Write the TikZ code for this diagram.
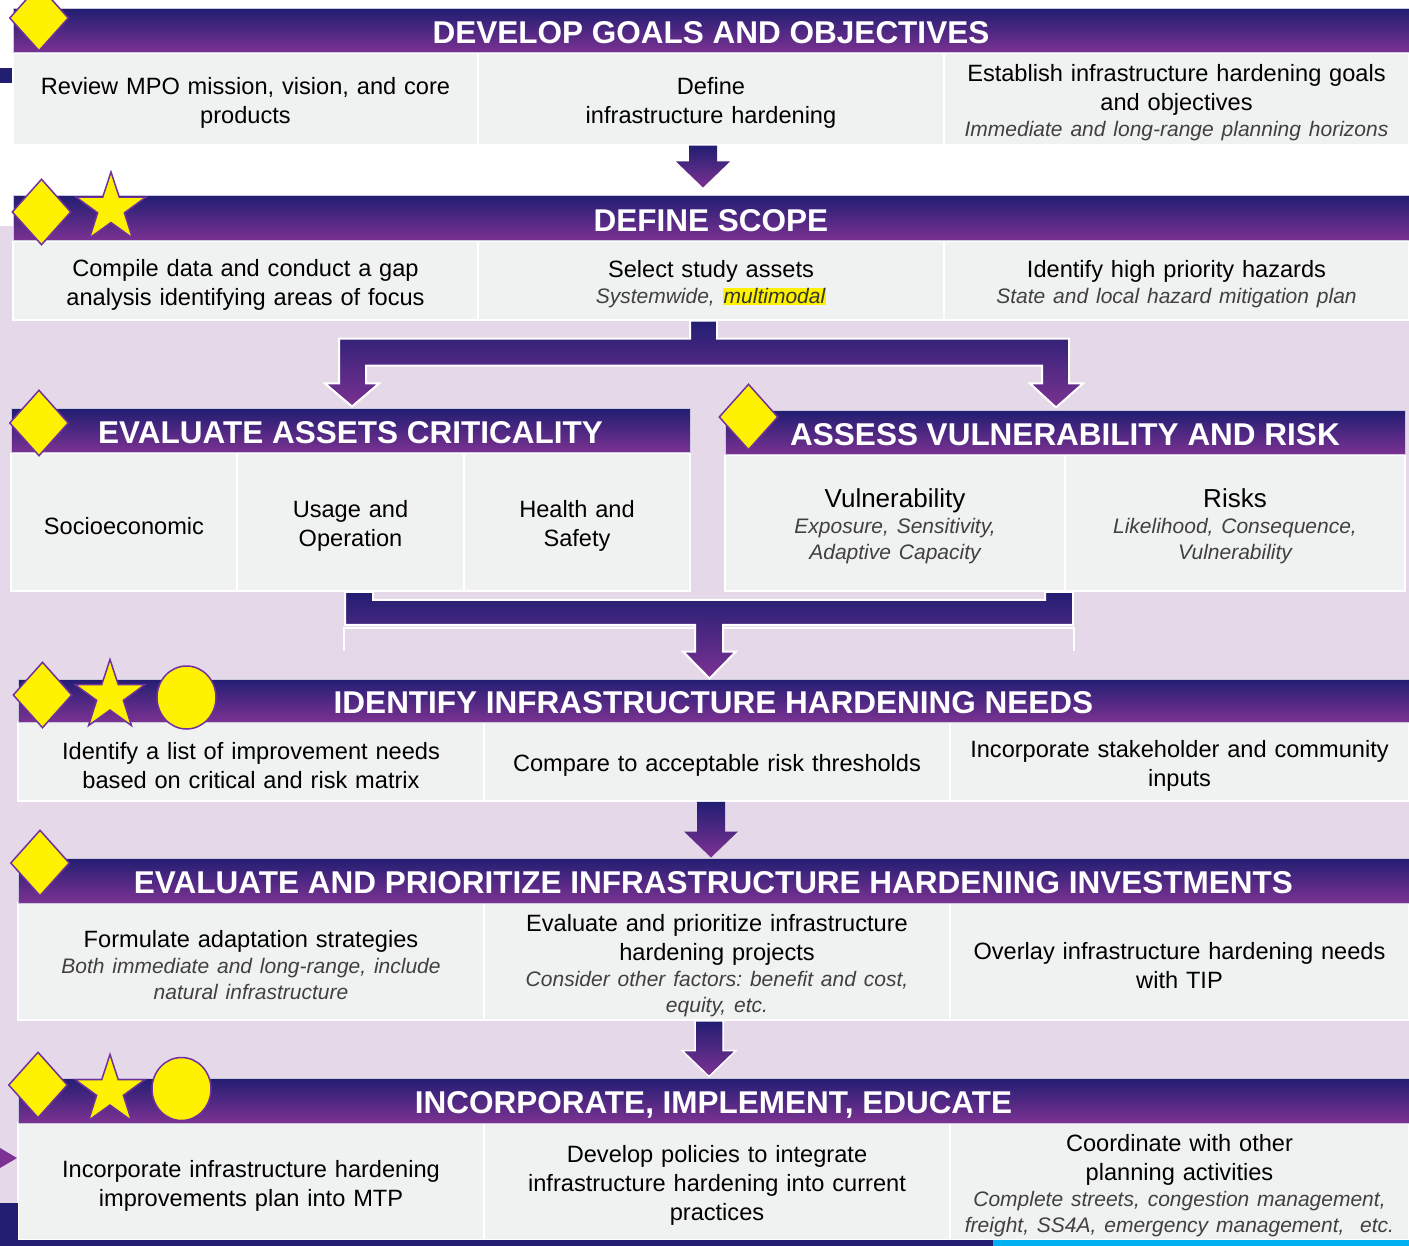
\documentclass[tikz,border=0pt]{standalone}
\usepackage{fontspec}
\setmainfont{Liberation Sans}
\usetikzlibrary{shapes.geometric,calc}
\frenchspacing

% Colours
\definecolor{hnavy}{RGB}{34,30,114}
\definecolor{hplum}{RGB}{124,50,146}
\definecolor{lav}{RGB}{229,216,233}
\definecolor{cellgray}{RGB}{240,241,241}
\definecolor{subgray}{RGB}{64,64,64}
\definecolor{edgeplum}{RGB}{112,48,160}
\definecolor{skyline}{RGB}{0,176,240}

% Text helpers
\newcommand{\bodyfont}{\fontsize{23.6}{29}\selectfont}
\newcommand{\subtxt}[1]{{\par\itshape\color{subgray}\fontsize{21}{26}\selectfont #1\par}}
\newcommand{\hilite}[1]{{\setlength{\fboxsep}{1pt}\colorbox{yellow}{\color{black!80}#1}}}

% Block arrow going down from one node to the next
\newcommand{\blockdown}[5][]{%
  \path[arrowfill,#1] let \p1 = (#3.south), \p2 = (#4.north) in
    ({#2pt-14pt},\y1) -- ({#2pt+14pt},\y1) -- ({#2pt+14pt},{\y2+#5pt+26pt})
    -- ({#2pt+27pt},{\y2+#5pt+26pt}) -- ({#2pt},{\y2+#5pt})
    -- ({#2pt-27pt},{\y2+#5pt+26pt}) -- ({#2pt-14pt},{\y2+#5pt+26pt}) -- cycle;}

\tikzset{
  hdr/.style={top color=hnavy, bottom color=hplum, draw=hnavy!25!white, line width=1pt,
    text=white, font=\bfseries\fontsize{31.5}{36}\selectfont, inner sep=0pt,
    text height=26pt, text depth=0pt},
  cell/.style={fill=cellgray, draw=white, line width=1.5pt, inner sep=0pt, align=center,
    font=\bodyfont, execute at begin node={\rule{0pt}{25pt}}},
  wcell/.style={cell, minimum width=465pt, text width=449pt},
  ncell/.style={cell, minimum width=226pt, text width=214pt},
  hcell/.style={cell, minimum width=340pt, text width=326pt},
  badge/.style={fill=yellow, draw=edgeplum, line width=1.5pt, inner sep=0pt},
  dmd/.style={badge, diamond, minimum width=59pt, minimum height=66pt},
  starb/.style={badge, star, star points=5, star point ratio=2.6, minimum size=73pt},
  disc/.style={badge, ellipse, minimum width=59pt, minimum height=63pt},
  arrowfill/.style={top color=hnavy, bottom color=hplum},
  forkarrow/.style={arrowfill, draw=white, line width=2pt}
}

\begin{document}
\begin{tikzpicture}[x=1pt,y=-1pt]

    \useasboundingbox (0,0) rectangle (1409,1246);

    % Background
    \fill[lav] (0,226) rectangle (1409,1246);
    \fill[hnavy] (0,68) rectangle (12,83);

    % Row 1: goals and objectives
    \node[wcell, minimum height=92pt] (b1a) at (245.5,99) {Review MPO mission, vision, and core\\products};
    \node[wcell, minimum height=92pt] (b1b) at (711,99) {Define\\infrastructure hardening};
    \node[wcell, minimum height=92pt] (b1c) at (1176.5,99) {Establish infrastructure hardening goals\\and objectives\subtxt{Immediate and long-range planning horizons}};
    \node[hdr, minimum width=1396pt, minimum height=44pt] (h1) at (711,31) {DEVELOP GOALS AND OBJECTIVES};

    % Row 2: scope
    \node[wcell, minimum height=79pt] (b2a) at (245.5,280.5) {Compile data and conduct a gap\\analysis identifying areas of focus};
    \node[wcell, minimum height=79pt] (b2b) at (711,280.5) {Select study assets\subtxt{Systemwide, \hilite{multimodal}}};
    \node[wcell, minimum height=79pt] (b2c) at (1176.5,280.5) {Identify high priority hazards\subtxt{State and local hazard mitigation plan}};
    \node[hdr, minimum width=1396pt, minimum height=45pt] (h2) at (711,218.5) {DEFINE SCOPE};

    % Row 3: criticality and vulnerability
    \node[ncell, minimum height=138pt] (b3a) at (124,522) {Socioeconomic};
    \node[ncell, minimum height=138pt] (b3b) at (350.5,522) {Usage and\\Operation};
    \node[ncell, minimum height=138pt] (b3c) at (577,522) {Health and\\Safety};
    \node[hdr, minimum width=679pt, minimum height=44pt] (h3a) at (350.5,431) {EVALUATE ASSETS CRITICALITY};
    \node[hcell, minimum height=136pt] (b3d) at (895,523) {{\fontsize{26}{30}\selectfont Vulnerability}\subtxt{Exposure, Sensitivity,\\Adaptive Capacity}};
    \node[hcell, minimum height=136pt] (b3e) at (1235,523) {{\fontsize{26}{30}\selectfont Risks}\subtxt{Likelihood, Consequence,\\Vulnerability}};
    \node[hdr, minimum width=680pt, minimum height=44pt] (h3b) at (1065,433) {ASSESS VULNERABILITY AND RISK};

    % Row 4: needs
    \node[wcell, minimum width=466pt, minimum height=79pt] (b4a) at (251,761.5) {Identify a list of improvement needs\\based on critical and risk matrix};
    \node[wcell, minimum width=466pt, minimum height=79pt] (b4b) at (717,761.5) {Compare to acceptable risk thresholds};
    \node[wcell, minimum width=459pt, minimum height=79pt] (b4c) at (1179.5,761.5) {Incorporate stakeholder and community\\inputs};
    \node[hdr, minimum width=1391pt, minimum height=43pt] (h4) at (713.5,700.5) {IDENTIFY INFRASTRUCTURE HARDENING NEEDS};

    % Row 5: investments
    \node[wcell, minimum width=466pt, minimum height=117pt] (b5a) at (251,961.5) {Formulate adaptation strategies\subtxt{Both immediate and long-range, include\\natural infrastructure}};
    \node[wcell, minimum width=466pt, minimum height=117pt] (b5b) at (717,961.5) {Evaluate and prioritize infrastructure\\hardening projects\subtxt{Consider other factors: benefit and cost,\\equity, etc.}};
    \node[wcell, minimum width=459pt, minimum height=117pt] (b5c) at (1179.5,961.5) {Overlay infrastructure hardening needs\\with TIP};
    \node[hdr, minimum width=1391pt, minimum height=45pt] (h5) at (713.5,880.5) {EVALUATE AND PRIORITIZE INFRASTRUCTURE HARDENING INVESTMENTS};

    % Row 6: incorporate
    \node[wcell, minimum width=466pt, minimum height=117pt] (b6a) at (251,1181.5) {Incorporate infrastructure hardening\\improvements plan into MTP};
    \node[wcell, minimum width=466pt, minimum height=117pt] (b6b) at (717,1181.5) {Develop policies to integrate\\infrastructure hardening into current\\practices};
    \node[wcell, minimum width=459pt, minimum height=117pt] (b6c) at (1179.5,1181.5) {Coordinate with other\\planning activities\subtxt{Complete streets, congestion management,\\freight, SS4A, emergency management,~~etc.}};
    \node[hdr, minimum width=1391pt, minimum height=45pt] (h6) at (713.5,1100.5) {INCORPORATE, IMPLEMENT, EDUCATE};

    % Arrows between the rows
    \blockdown{703}{b1b}{h2}{8}
    \path[forkarrow] let \p1 = (b2b.south), \p2 = (h3a.north), \p3 = (h3b.north) in
      (690pt,\y1) -- (717pt,\y1) -- (717pt,{\y1-18pt}) -- (1069pt,{\y1-18pt})
      -- (1069pt,{\y3+27pt}) -- (1083pt,{\y3+27pt}) -- (1056pt,{\y3+3pt}) -- (1030pt,{\y3+27pt})
      -- (1042pt,{\y3+27pt}) -- (1042pt,{\y1-45pt}) -- (366pt,{\y1-45pt}) -- (366pt,{\y2+25pt})
      -- (379pt,{\y2+25pt}) -- (352pt,{\y2+2pt}) -- (325pt,{\y2+25pt}) -- (339pt,{\y2+25pt})
      -- (339pt,{\y1-18pt}) -- (690pt,{\y1-18pt}) -- cycle;
    \draw[white, line width=2pt] (344,651) -- (344,628) -- (1074,628) -- (1074,651);
    \path[forkarrow] let \p1 = (b3a.south), \p2 = (h4.north) in
      (345pt,\y1) -- (373pt,\y1) -- (373pt,{\y1-8pt}) -- (1045pt,{\y1-8pt}) -- (1045pt,\y1)
      -- (1073pt,\y1) -- (1073pt,{\y1-33pt}) -- (723pt,{\y1-33pt}) -- (723pt,{\y2+27pt})
      -- (736pt,{\y2+27pt}) -- (709.5pt,\y2) -- (683pt,{\y2+27pt}) -- (695pt,{\y2+27pt})
      -- (695pt,{\y1-33pt}) -- (345pt,{\y1-33pt}) -- cycle;
    \blockdown{711}{b4b}{h5}{0}
    \blockdown[draw=white, line width=1.5pt]{709}{b5b}{h6}{1}

    % Edge marks
    \fill[hplum] (0,1148) -- (17,1158) -- (0,1168) -- cycle;
    \fill[hnavy] (0,1203) rectangle (18,1246);
    \fill[hnavy] (0,1240) rectangle (1409,1246);
    \fill[skyline] (993,1240) rectangle (1409,1246);

    % Badges
    \node[dmd] (d1) at (39,18) {};
    \node[dmd] (d2) at (41.5,212) {};
    \node[starb] (s2) at (111,208.5) {};
    \node[dmd] (d3a) at (39,423) {};
    \node[dmd] (d3b) at (748.5,417) {};
    \node[dmd] (d4) at (42.5,695) {};
    \node[starb] (s4) at (110,696) {};
    \node[disc] (c4) at (186.5,697.5) {};
    \node[dmd] (d5) at (40,863) {};
    \node[dmd] (d6) at (38,1085) {};
    \node[starb] (s6) at (110,1091) {};
    \node[disc] (c6) at (181.5,1089) {};

\end{tikzpicture}
\end{document}
